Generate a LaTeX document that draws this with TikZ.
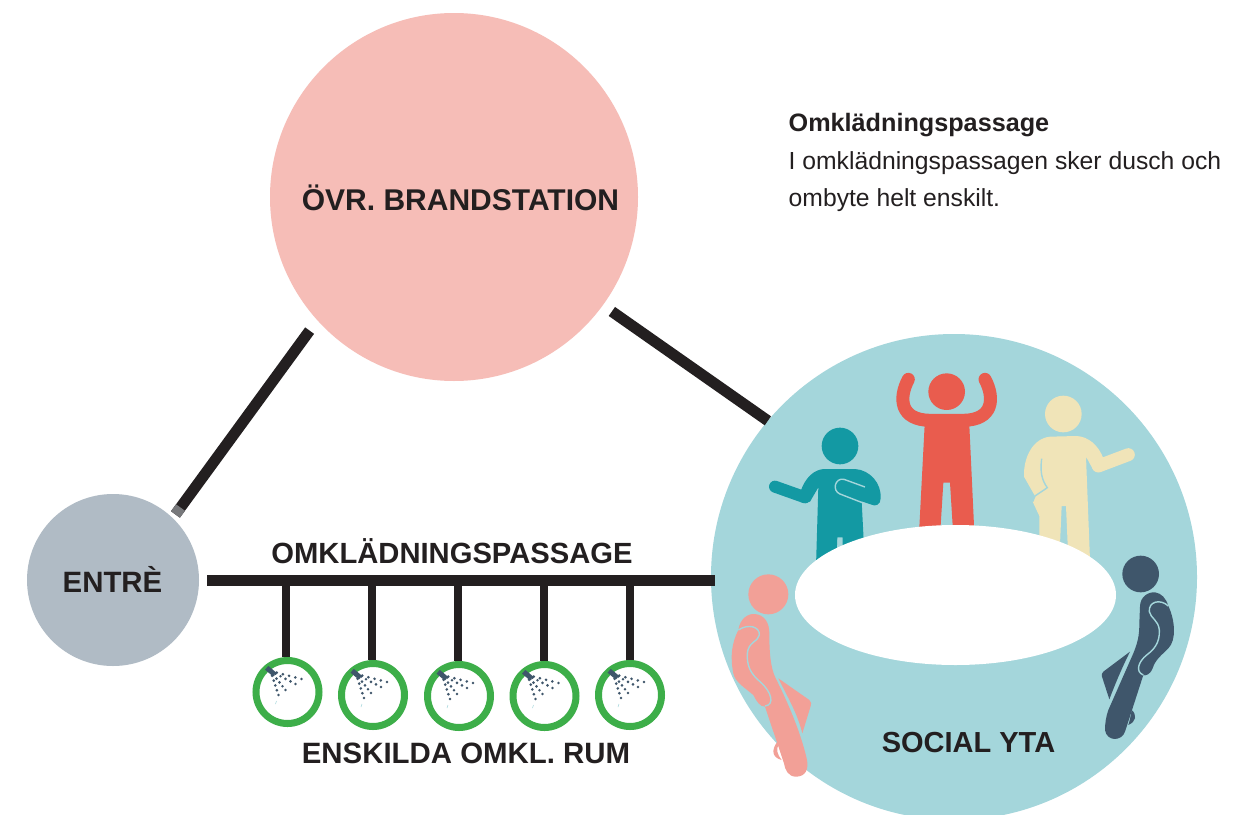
\documentclass[tikz,border=0pt]{standalone}
\usepackage{fontspec}
\setmainfont{Liberation Sans}
\usetikzlibrary{positioning}
\definecolor{ovrpink}{HTML}{F6BDB7}
\definecolor{entregrey}{HTML}{B0BBC5}
\definecolor{socialblue}{HTML}{A4D6DB}
\definecolor{barblack}{HTML}{231F20}
\definecolor{tipgrey}{HTML}{77787B}
\definecolor{ringgreen}{HTML}{3DAE49}
\definecolor{dotblue}{HTML}{3F566B}
\definecolor{redperson}{HTML}{E95C4E}
\definecolor{tealperson}{HTML}{1399A3}
\definecolor{yellowperson}{HTML}{F0E4B8}
\definecolor{pinkperson}{HTML}{F2A097}
\definecolor{navyperson}{HTML}{3F566B}
\tikzset{
  room/.style={circle,minimum size=#1,inner sep=0pt,outer sep=0pt},
  link/.style={draw=barblack,line width=11pt},
  stem/.style={draw=barblack,line width=8pt},
  ring/.style={circle,draw=ringgreen,fill=white,line width=7pt,minimum size=63pt,inner sep=0pt},
  caps/.style={font=\fontsize{#1}{#1}\selectfont\bfseries,text=barblack,inner sep=0pt},
  info/.style={anchor=base west,inner sep=0pt,text=barblack},
  gap/.style={draw=socialblue,line width=1.4pt},
  shower/.pic={
    \fill[dotblue,rotate around={-40:(-17,-21)}] (-22,-23.5) rectangle (-12,-18.5);
    \foreach \ex/\ey in {14/-13,8/-8,-2/-2,-9/3} {
      \foreach \t in {.2,.4,.6,.8,1} {
        \fill[dotblue] ({-17+\t*(\ex+17)},{-21+\t*(\ey+21)}) circle (1.45);
      }
    }
    \draw[socialblue,line width=.5pt] (-12,12) -- (-11,9);
  }
}
\begin{document}
\begin{tikzpicture}[x=1pt,y=-1pt]
    \clip (0,0) rectangle (1253,814);
    \fill[white] (0,0) rectangle (1253,814);

    % Rooms
    \node[room=368pt,fill=ovrpink] (ovr) at (454,197) {};
    \node[room=172pt,fill=entregrey] (entre) at (113,580) {};
    \node[room=486pt,fill=socialblue] (social) at (954,577) {};

    % Corridors
    \draw[link,shorten <=13pt,shorten >=4.6pt] (ovr.222.7) -- (entre.46.5);
    \draw[link,draw=tipgrey,shorten <=232pt,shorten >=4.6pt] (ovr.222.7) -- (entre.46.5);
    \draw[link,shorten <=11pt] (ovr.324.7) -- (social.140.9);
    \draw[link,shorten <=8pt,shorten >=-4pt] (entre.east) -- (entre.east -| social.west);

    % Private rooms
    \foreach \i/\s/\x/\y in {1/286/287.5/692,2/372/373/695,3/458/459/696,4/544/544.5/696,5/630/630/695} {
        \node[ring] (ring\i) at (\x,\y) {};
        \coordinate (tap\i) at (\s,580);
        \draw[stem] (tap\i) -- (tap\i |- ring\i.north);
        \pic at (ring\i) {shower};
    }

    % Standing people
    \begin{scope}[shift={(760,360)},scale=1/3]
        % Teal
        \fill[tealperson] (240,258) circle (55);
        \draw[tealperson,line width=12pt,line cap=round] (45,380) -- (135,412);
        \fill[tealperson] (120,400) .. controls (135,350) and (165,327) .. (195,327) -- (285,327)
            .. controls (330,330) and (365,370) .. (362,415) .. controls (362,435) and (345,440) .. (335,434)
            -- (305,424) -- (312,560) -- (248,560) -- (248,532) -- (232,532) -- (228,620) -- (168,620)
            -- (175,382) -- (150,425) -- (125,428) -- cycle;
        \draw[gap] (315,381) -- (252,358) .. controls (225,352) and (215,392) .. (240,402) -- (312,430);
        % Red
        \fill[redperson] (560,95) circle (55);
        \draw[redperson,line width=13pt,line cap=round] (445,58) .. controls (415,115) and (420,180) .. (510,181)
            -- (610,181) .. controls (700,180) and (705,115) .. (675,58);
        \fill[redperson] (495,175) -- (627,175) -- (645,560) -- (582,560) -- (570,368) -- (550,368) -- (538,560) -- (475,560) -- cycle;
        % Yellow
        \fill[yellowperson] (910,162) circle (55);
        \draw[yellowperson,line width=13pt,line cap=round] (1015,318) -- (1105,284);
        \fill[yellowperson] (870,230) -- (950,228) .. controls (985,230) and (1015,255) .. (1030,295)
            -- (1012,335) -- (1000,330) -- (978,290) -- (990,600) -- (925,600) -- (918,438) -- (905,438) -- (898,600)
            -- (838,560) -- (838,468) -- (818,425) -- (825,408) -- (792,350) .. controls (790,290) and (820,235) .. (870,230) -- cycle;
        \draw[gap] (845,296) .. controls (840,335) and (845,360) .. (862,383) -- (825,408) -- (818,425);
    \end{scope}

    % Table
    \fill[white] (955.5,595) ellipse (160.5 and 70);

    % Seated people
    \begin{scope}[shift={(710,550)},scale=1/3]
        \fill[pinkperson] (175,133) circle (60);
        \fill[pinkperson] (205,385) -- (298,450) .. controls (305,456) and (304,462) .. (302,468) -- (277,550) .. controls (262,490) and (235,445) .. (205,385) -- cycle;
        \fill[pinkperson] (200,578) .. controls (185,600) and (185,622) .. (215,630) .. controls (200,610) and (198,600) .. (207,580) -- cycle;
        \fill[pinkperson] (85,240) .. controls (90,205) and (115,190) .. (135,192) .. controls (165,195) and (178,220) .. (178,250)
            .. controls (178,300) and (180,350) .. (197,385) .. controls (230,450) and (270,540) .. (290,625) .. controls (298,660) and (285,680) .. (258,680)
            .. controls (235,680) and (225,660) .. (222,640) -- (165,470) .. controls (150,470) and (140,455) .. (130,435)
            .. controls (100,410) and (75,395) .. (70,370) .. controls (60,320) and (65,280) .. (85,240) -- cycle;
        \draw[gap] (85,240) .. controls (115,220) and (150,230) .. (148,255) .. controls (145,275) and (115,275) .. (112,310)
            .. controls (110,345) and (120,370) .. (150,395) .. controls (185,425) and (195,465) .. (165,468);
    \end{scope}
    \begin{scope}[shift={(1080,540)},scale=1/3]
        \fill[navyperson] (182,102) circle (55);
        \fill[navyperson] (150,335) -- (70,395) .. controls (65,400) and (64,405) .. (66,410) -- (88,478) .. controls (110,420) and (130,375) .. (150,335) -- cycle;
        \fill[navyperson] (155,510) .. controls (172,525) and (168,545) .. (145,555) .. controls (150,540) and (152,525) .. (155,510) -- cycle;
        \fill[navyperson] (265,198) .. controls (285,240) and (290,300) .. (265,325) .. controls (245,345) and (225,360) .. (218,385)
            .. controls (210,405) and (195,408) .. (190,405) -- (135,575) .. controls (125,605) and (80,605) .. (75,570)
            .. controls (75,550) and (78,530) .. (85,510) -- (160,340) .. controls (172,310) and (178,290) .. (178,250)
            -- (180,200) .. controls (180,170) and (205,155) .. (225,157) .. controls (245,160) and (258,175) .. (265,198) -- cycle;
        \draw[gap] (265,198) .. controls (240,175) and (205,185) .. (208,215) .. controls (212,235) and (235,240) .. (238,270)
            .. controls (240,310) and (220,330) .. (200,345) .. controls (175,365) and (165,395) .. (190,405);
    \end{scope}

    % Labels
    \node[caps=30] (ovrlabel) at (460.5,198) {ÖVR. BRANDSTATION};
    \node[caps=29.4] (entrelabel) at (112.5,579) {ENTRÈ};
    \node[caps=29.2] (passagelabel) at (452,551) {OMKLÄDNINGSPASSAGE};
    \node[caps=29.4] (roomslabel) at (466,753) {ENSKILDA OMKL. RUM};
    \node[caps=29] (sociallabel) at (968.5,743) {SOCIAL YTA};

    % Description
    \node[info,font=\fontsize{25.2}{25.2}\selectfont\bfseries] (infohead) at (788.5,131) {Omklädningspassage};
    \node[info,font=\fontsize{24.7}{24.7}\selectfont] (infoone) at (788.5,169) {I omklädningspassagen sker dusch och};
    \node[info,font=\fontsize{24.7}{24.7}\selectfont] (infotwo) at (788.5,206) {ombyte helt enskilt.};
\end{tikzpicture}
\end{document}
